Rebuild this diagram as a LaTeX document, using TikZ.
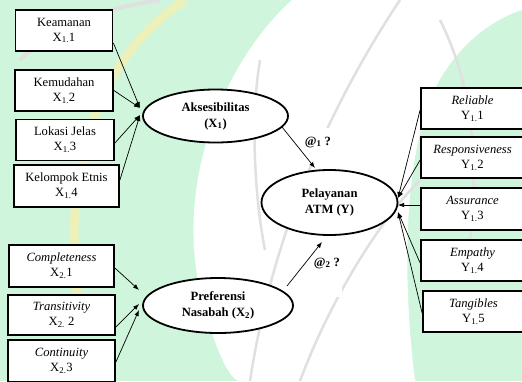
\documentclass[tikz,border=0pt]{standalone}
\usepackage{fontspec}
\setmainfont{Liberation Serif}
\usetikzlibrary{arrows.meta,shapes.geometric}
\definecolor{mint}{HTML}{CFF5DC}
\definecolor{vein}{HTML}{E0E0E0}
\definecolor{ring}{HTML}{F4F0B4}
\begin{document}
\begin{tikzpicture}[x=1pt,y=-1pt,
  box/.style={draw,line width=1.8pt,minimum width=#1,minimum height=41pt,inner sep=0pt,
    align=center,fill=white,font=\fontsize{12.6}{15}\selectfont},
  box/.default=98pt,
  latent/.style={draw,ellipse,line width=1.8pt,fill=white,inner sep=0pt,align=center,
    font=\bfseries\fontsize{12.6}{16}\selectfont},
  arr/.style={-{Latex[length=6pt,width=4.5pt]},line width=0.7pt},
  lbl/.style={font=\bfseries\fontsize{12.6}{15}\selectfont,inner sep=0pt}]
\useasboundingbox (0,0) rectangle (522,381);
% watermark approximation
\fill[mint] (0,0) rectangle (522,381);
\fill[white] (292,0) .. controls (225,60) and (175,180) .. (200,290)
  .. controls (212,340) and (228,381) .. (240,381) -- (415,381)
  .. controls (405,300) and (400,180) .. (430,100)
  .. controls (450,50) and (490,20) .. (522,10) -- (522,0) -- cycle;
\draw[ring,line width=9pt,opacity=0.8] (78,300) .. controls (62,170) and (95,60) .. (185,0);
\draw[vein,line width=4pt] (20,60) .. controls (60,20) and (110,8) .. (160,0);
\draw[vein,line width=2.5pt] (250,381) .. controls (270,250) and (320,120) .. (400,0);
\draw[vein,line width=2.5pt] (300,381) .. controls (330,300) and (380,220) .. (420,180);
\draw[vein,line width=2.5pt] (260,60) .. controls (250,120) and (255,200) .. (265,250);
\draw[vein,line width=2.5pt] (440,20) .. controls (470,80) and (480,150) .. (470,240);

% label backgrounds
\fill[white] (296,128) rectangle (338,165);
\fill[white] (308,250) rectangle (342,297);

% X1 indicators
\node[box=97pt] (k1) at (64,30.5) {Keamanan\\X\textsubscript{1.}1};
\node[box] (k2) at (64,90.5) {Kemudahan\\X\textsubscript{1.}2};
\node[box] (k3) at (65,140) {Lokasi Jelas\\X\textsubscript{1.}3};
\node[box=105pt,minimum height=42pt] (k4) at (66.5,186) {Kelompok Etnis\\X\textsubscript{1.}4};
% X2 indicators
\node[box=105pt,minimum height=42pt] (p1) at (61.5,266) {\textit{Completeness}\\X\textsubscript{2.}1};
\node[box=107pt,minimum height=40pt] (p2) at (61.5,315) {\textit{Transitivity}\\X\textsubscript{2.} 2};
\node[box=107pt,minimum height=42pt] (p3) at (61.5,361) {\textit{Continuity}\\X\textsubscript{2.}3};
% Y indicators
\node[box=103pt] (y1) at (472.5,108.5) {\textit{Reliable}\\Y\textsubscript{1.}1};
\node[box=103pt] (y2) at (472.5,157.5) {\textit{Responsiveness}\\Y\textsubscript{1.}2};
\node[box=103pt,minimum height=42pt] (y3) at (472.5,209) {\textit{Assurance}\\Y\textsubscript{1.}3};
\node[box=103pt] (y4) at (472.5,260.5) {\textit{Empathy}\\Y\textsubscript{1.}4};
\node[box=101pt] (y5) at (473.5,311.5) {\textit{Tangibles}\\Y\textsubscript{1.}5};

% latent variables
\node[latent,minimum width=145pt,minimum height=53pt] (aks) at (215.5,116) {Aksesibilitas\\(X\textsubscript{1})};
\node[latent,minimum width=150pt,minimum height=55pt] (pref) at (218,305.5) {Preferensi\\Nasabah (X\textsubscript{2})};
\node[latent,minimum width=136pt,minimum height=65pt] (pel) at (329.5,202.5) {Pelayanan\\ATM (Y)};

% arrow end points
\coordinate (a1) at (140,108);
\coordinate (a2) at (140,115);
\coordinate (b1) at (139,290);
\coordinate (b2) at (139,304);
\coordinate (b3) at (139,310);
\coordinate (c1) at (398,198);
\coordinate (c2) at (398,205);
\coordinate (c3) at (398,212);
\coordinate (s1) at (282,127);
\coordinate (e1) at (315,168);
\coordinate (s2) at (287,286);
\coordinate (e2) at (322,242);

\draw[arr] ([yshift=-12.5pt]k1.east) -- (a1);
\draw[arr] (k2.east) -- (a1);
\draw[arr] ([yshift=-3pt]k3.east) -- (a2);
\draw[arr] ([yshift=6pt]k4.east) -- (a2);

\draw[arr] ([yshift=-2pt]p1.east) -- (b1);
\draw[arr] ([yshift=-12pt]p2.east) -- (b2);
\draw[arr] ([yshift=-1pt]p3.east) -- (b3);

\draw[arr] ([yshift=-1.5pt]y1.west) -- (c1);
\draw[arr] ([yshift=-2.5pt]y2.west) -- (c1);
\draw[arr] ([yshift=4pt]y3.west) -- (c2);
\draw[arr] ([yshift=-2.5pt]y4.west) -- (c3);
\draw[arr] ([yshift=-1.5pt]y5.west) -- (c3);

\draw[arr] (s1) -- (e1);
\draw[arr] (s2) -- (e2);

\node[lbl] (l1) at (318,142) {@\textsubscript{1} ?};
\node[lbl] (l2) at (327,263) {@\textsubscript{2} ?};
\end{tikzpicture}
\end{document}
